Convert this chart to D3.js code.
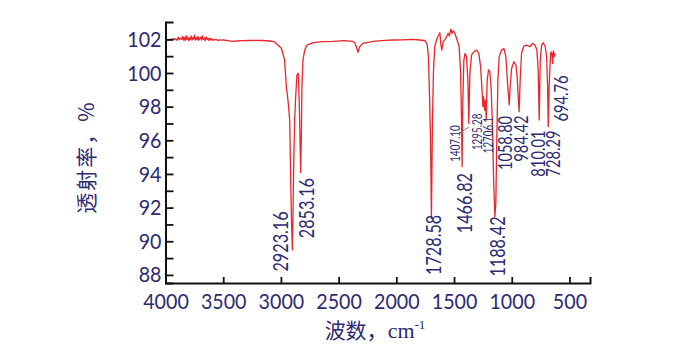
<!DOCTYPE html>
<html><head><meta charset="utf-8">
<script src="https://cdn.jsdelivr.net/npm/d3@7"></script>
<style>body{margin:0;background:#fff}svg{display:block}</style>
</head><body><svg id="c" width="690" height="346"></svg>
<script>
// ---- data ----
const wavenumbers = [
3990,3980,3970,3960,3950,3940,3930,3920,3910,3900,3890,3880,3870,3860,3850,3845,3838,3830,3822,3815,
3808,3800,3792,3785,3778,3770,3762,3755,3748,3740,3732,3725,3718,3710,3702,3695,3688,3680,3672,3664,
3656,3648,3640,3632,3624,3616,3608,3600,3590,3580,3570,3560,3545,3530,3515,3500,3460,3420,3380,3330,
3280,3220,3160,3100,3060,3040,2996,2968,2953,2939,2924,2918,2910,2901,2896,2890,2881,2872,2861,2849,
2841,2835,2829,2823,2818,2809,2794,2774,2720,2640,2550,2450,2380,2360,2346,2332,2317,2289,2200,2100,
2030,1950,1860,1800,1760,1753,1733,1722,1713,1704,1696,1687,1678,1667,1652,1638,1623,1615,1606,1594,
1571,1551,1540,1530,1525,1518,1513,1505,1493,1473,1456,1444,1435,1430,1424,1415,1404,1392,1380,1372,
1363,1348,1328,1305,1285,1270,1259,1250,1244,1235,1227,1221,1213,1201,1190,1179,1166,1158,1146,1138,
1129,1120,1109,1089,1068,1051,1036,1022,1014,1001,981,964,953,944,936,927,915,895,871,843,
820,799,782,771,762,753,741,727,710,698,689,684,676,669,661,652,646,639,632,623
];
const transmittance = [
101.92,101.96,101.93,101.99,102.02,101.95,102.06,101.98,102.03,101.94,102.12,101.97,102.08,102.00,102.18,101.95,102.10,101.92,102.22,102.00,
102.14,101.93,102.08,101.98,102.20,101.96,102.12,102.01,102.25,101.95,102.10,101.99,102.17,101.94,102.06,102.13,101.95,102.20,102.00,102.09,
101.92,102.15,101.98,102.05,101.93,102.08,101.97,102.04,101.94,102.00,101.96,101.99,101.93,101.97,101.95,101.96,101.92,101.88,101.90,101.92,
101.93,101.94,101.93,101.90,101.86,101.75,101.47,100.77,99.18,98.39,97.21,94.83,91.66,89.49,91.27,94.24,97.21,98.59,99.88,99.98,
98.20,96.21,94.08,96.21,99.18,100.77,101.36,101.66,101.80,101.86,101.88,101.92,101.88,101.80,101.56,101.23,101.56,101.76,101.88,101.94,
101.96,101.97,102.00,101.96,101.93,101.92,101.72,100.97,98.79,96.21,91.35,97.21,100.18,101.56,101.96,102.20,102.39,101.76,101.36,101.86,
102.06,102.36,102.20,102.55,102.60,102.35,102.45,102.50,102.36,101.96,101.56,100.18,97.21,94.43,98.20,100.77,101.17,100.97,99.58,97.00,
99.98,101.07,101.26,101.36,101.17,100.37,99.18,98.00,98.59,97.80,98.39,97.21,99.58,100.18,100.08,99.18,96.61,93.84,91.46,92.26,
96.21,99.58,100.97,101.36,101.46,100.97,99.38,98.10,99.18,100.28,100.67,100.47,99.78,98.59,97.70,99.58,101.17,101.60,101.66,101.56,
101.76,101.66,101.36,100.18,97.21,100.77,101.66,101.80,101.56,100.97,99.18,96.81,99.18,100.37,101.26,101.17,100.57,101.32,100.97,101.17
];
const xTicks = [4000,3500,3000,2500,2000,1500,1000,500];
const yTicks = [88,89,90,91,92,93,94,95,96,97,98,99,100,101,102];
const yLabelled = [88,90,92,94,96,98,100,102];
// peak annotations: text, anchor wavenumber, anchor transmittance (bottom of rotated label)
const peakTexts = ["2923.16","2853.16","1728.58","1466.82","1407.10","1295.28","12706.1","1188.42","1058.80","984.42","810.01","728.29","694.76"];
const peakAnchorWn = [2939,2716,1609,1348,1450,1262,1161,1059,1001,857,713,582,510];
const peakAnchorT  = [88.20,90.18,88.00,90.48,94.73,95.42,95.23,87.90,94.24,94.73,93.84,93.84,97.11];
const peakSize = ["L","L","L","L","S","S","S","L","M","M","M","M","M"];
const leader = [[1450,96.43],[1372,96.79]];
const yTitle = "透射率，%";
const xTitle = "波数，cm";

// ---- drawing ----
const ink = "#2e2a72";
const numFont = "Lato";
const svg = d3.select("#c");
const x = d3.scaleLinear().domain([4000, 322]).range([165.5, 590]);
const y = d3.scaleLinear().domain([87.52, 103.03]).range([283, 22]);

const sizes = {L:{fs:22, per:8.6}, M:{fs:19, per:7.7}, S:{fs:14, per:5.2}};

// spectrum
const pts = wavenumbers.map((w,i)=>[w, transmittance[i]]);
svg.append("path").datum(pts)
  .attr("fill","none").attr("stroke","#e8262b").attr("stroke-width",1.3)
  .attr("stroke-linejoin","round")
  .attr("d", d3.line().x(d=>x(d[0])).y(d=>y(d[1])));

// axes
const gx = svg.append("g").attr("transform","translate(0,283)")
  .call(d3.axisBottom(x).tickValues(xTicks).tickSizeInner(-6).tickSizeOuter(-6).tickPadding(10).tickFormat(d3.format("d")));
const gy = svg.append("g").attr("transform","translate(165.5,0)")
  .call(d3.axisLeft(y).tickValues(yTicks).tickSizeInner(-8).tickSizeOuter(-8).tickPadding(4)
    .tickFormat(d => yLabelled.includes(d) ? String(d) : ""));
[gx, gy].forEach(g => {
  g.select(".domain").attr("stroke","#111").attr("stroke-width",2);
  g.selectAll(".tick line").attr("stroke","#111").attr("stroke-width",1.8);
  g.selectAll(".tick text").attr("fill", ink).style("font-family", numFont).style("font-size","22px")
    .each(function(){ const t=this.textContent; if(t) d3.select(this).attr("textLength", t.length*11.4).attr("lengthAdjust","spacingAndGlyphs"); });
});

// peak labels
peakTexts.forEach((t,i)=>{
  const s = sizes[peakSize[i]];
  svg.append("text")
    .attr("transform", `translate(${x(peakAnchorWn[i])},${y(peakAnchorT[i])}) rotate(-90)`)
    .attr("fill", ink).style("font-family", numFont).style("font-size", s.fs+"px")
    .attr("textLength", t.length*s.per).attr("lengthAdjust","spacingAndGlyphs")
    .text(t);
});
svg.append("path").datum(leader).attr("fill","none").attr("stroke","#777").attr("stroke-width",1)
  .attr("d", d3.line().x(d=>x(d[0])).y(d=>y(d[1])));

// axis titles
svg.append("text").attr("transform","translate(85,157) rotate(-90)")
  .attr("text-anchor","middle").attr("dominant-baseline","central")
  .attr("fill", ink).style("font-family","'Noto Sans CJK SC'").style("font-size","21px")
  .style("letter-spacing","2px").text(yTitle);
const xt = svg.append("text").attr("x",375).attr("y",338).attr("text-anchor","middle")
  .attr("fill", ink).style("font-family","'Noto Sans CJK SC'").style("font-size","21px");
xt.append("tspan").text(xTitle.slice(0,3));
xt.append("tspan").style("font-family","'Liberation Serif'").style("font-size","22px").text(xTitle.slice(3));
xt.append("tspan").style("font-family","'Liberation Serif'").style("font-size","13px").attr("dy",-9).text("-1");
</script></body></html>
